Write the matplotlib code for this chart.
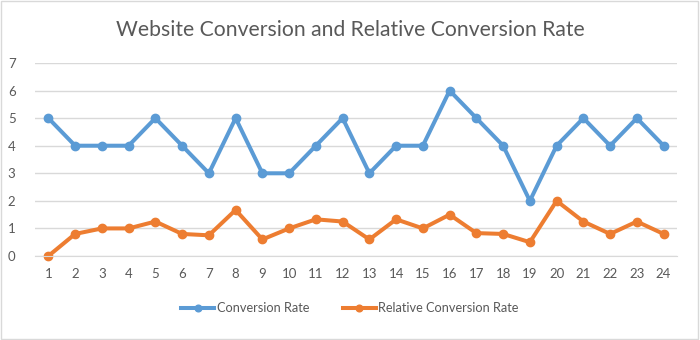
import matplotlib.pyplot as plt
from matplotlib.patches import Rectangle

plt.rcParams['font.family'] = ['Lato', 'DejaVu Sans']

hours = list(range(1, 25))
conversion_rate = [5, 4, 4, 4, 5, 4, 3, 5, 3, 3, 4, 5, 3, 4, 4, 6, 5, 4, 2, 4, 5, 4, 5, 4]
relative_rate = [0, 0.8, 1.0, 1.0, 1.25, 0.8, 0.75, 1.67, 0.6, 1.0, 1.33, 1.25,
                 0.6, 1.33, 1.0, 1.5, 0.83, 0.8, 0.5, 2.0, 1.25, 0.8, 1.25, 0.8]
yticks = [0, 1, 2, 3, 4, 5, 6, 7]

blue = '#5b9bd5'
orange = '#ed7d31'
text_grey = '#595959'
grid_grey = '#d9d9d9'

fig = plt.figure(figsize=(7, 3.4), dpi=100)
fig.patches.append(Rectangle((0.002, 0.003), 0.995, 0.993, transform=fig.transFigure,
                             fill=False, edgecolor=grid_grey, linewidth=1))

# plot area in pixels: x 35..677, y 63..256 (from top)
ax = fig.add_axes([35 / 700, 1 - 256 / 340, (677 - 35) / 700, (256 - 63) / 340])

ax.plot(hours, conversion_rate, color=blue, lw=2.9, marker='o', ms=6,
        label='Conversion Rate', solid_joinstyle='round')
ax.plot(hours, relative_rate, color=orange, lw=2.9, marker='o', ms=6,
        label='Relative Conversion Rate', solid_joinstyle='round')

ax.set_xlim(0.5, 24.5)
ax.set_ylim(0, 7)
ax.set_yticks(yticks)
ax.set_xticks(hours)
ax.grid(axis='y', color=grid_grey, lw=1)
ax.set_axisbelow(True)
for s in ['top', 'right', 'left']:
    ax.spines[s].set_visible(False)
ax.spines['bottom'].set_color(grid_grey)
ax.tick_params(length=0, labelsize=9.5, colors=text_grey)
ax.tick_params(axis='y', pad=14)
ax.tick_params(axis='x', pad=9)
for ln in ax.lines:
    ln.set_clip_on(False)

fig.text(0.5, 1 - 30 / 340, 'Website Conversion and Relative Conversion Rate',
         ha='center', va='center', fontsize=15.2, color=text_grey)

fig.legend(loc='center', bbox_to_anchor=(0.5, 1 - 308 / 340), ncol=2, frameon=False,
           fontsize=9.2, labelcolor=text_grey, handlelength=2.6, handletextpad=0.2,
           columnspacing=2.6, markerscale=0.8)

fig.savefig('out.png', dpi=100)
